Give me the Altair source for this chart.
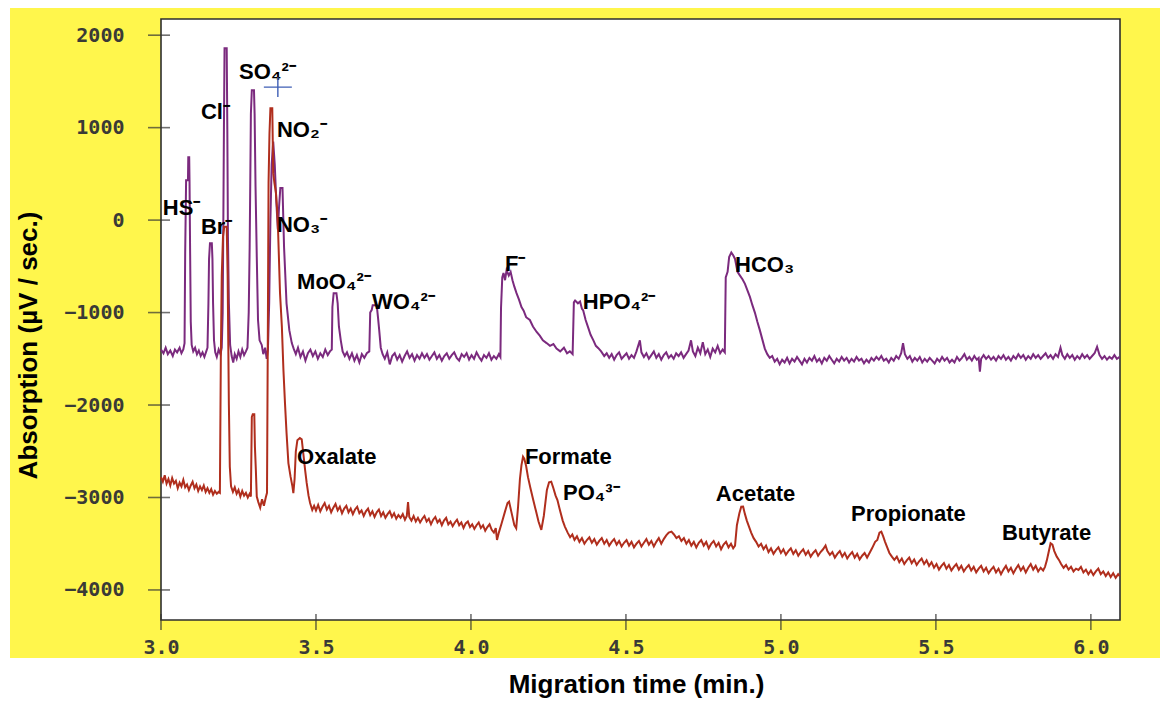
import altair as alt
import pandas as pd

# ---------------- data ----------------
purple_time = [
    3.000, 3.008, 3.015, 3.022, 3.030, 3.038, 3.045, 3.052, 3.060, 3.066, 3.072, 3.076, 3.078, 3.081, 3.087, 3.088,
    3.091, 3.092, 3.094, 3.096, 3.099, 3.104, 3.110, 3.116, 3.122, 3.128, 3.134, 3.140, 3.146, 3.150, 3.153, 3.155,
    3.158, 3.164, 3.166, 3.168, 3.171, 3.175, 3.180, 3.186, 3.192, 3.196, 3.199, 3.201, 3.203, 3.205, 3.212, 3.214,
    3.216, 3.219, 3.223, 3.228, 3.233, 3.238, 3.244, 3.250, 3.256, 3.262, 3.268, 3.274, 3.279, 3.283, 3.286, 3.288,
    3.290, 3.293, 3.300, 3.302, 3.305, 3.309, 3.313, 3.318, 3.325, 3.330, 3.336, 3.341, 3.345, 3.349, 3.353, 3.357,
    3.362, 3.367, 3.372, 3.377, 3.381, 3.385, 3.392, 3.397, 3.405, 3.414, 3.422, 3.428, 3.435, 3.442, 3.450, 3.458,
    3.466, 3.474, 3.482, 3.490, 3.498, 3.506, 3.514, 3.522, 3.530, 3.538, 3.545, 3.551, 3.553, 3.557, 3.566, 3.570,
    3.574, 3.580, 3.586, 3.593, 3.600, 3.608, 3.616, 3.624, 3.632, 3.640, 3.648, 3.656, 3.664, 3.672, 3.675, 3.680,
    3.683, 3.696, 3.700, 3.704, 3.709, 3.715, 3.722, 3.730, 3.738, 3.746, 3.754, 3.762, 3.770, 3.778, 3.786, 3.794,
    3.802, 3.810, 3.818, 3.826, 3.834, 3.842, 3.850, 3.858, 3.866, 3.874, 3.882, 3.890, 3.898, 3.906, 3.914, 3.922,
    3.930, 3.938, 3.946, 3.954, 3.962, 3.970, 3.978, 3.986, 3.994, 4.002, 4.010, 4.018, 4.026, 4.034, 4.042, 4.050,
    4.058, 4.066, 4.074, 4.082, 4.090, 4.095, 4.097, 4.101, 4.105, 4.110, 4.115, 4.122, 4.128, 4.134, 4.140, 4.147,
    4.155, 4.163, 4.170, 4.178, 4.190, 4.200, 4.212, 4.222, 4.232, 4.244, 4.255, 4.266, 4.276, 4.288, 4.300, 4.310,
    4.319, 4.328, 4.332, 4.336, 4.345, 4.352, 4.358, 4.362, 4.370, 4.378, 4.386, 4.395, 4.403, 4.411, 4.420, 4.430,
    4.438, 4.446, 4.454, 4.462, 4.470, 4.478, 4.486, 4.494, 4.502, 4.510, 4.518, 4.526, 4.534, 4.545, 4.550, 4.558,
    4.566, 4.574, 4.582, 4.590, 4.598, 4.606, 4.614, 4.622, 4.630, 4.638, 4.646, 4.654, 4.662, 4.670, 4.678, 4.686,
    4.694, 4.702, 4.710, 4.716, 4.724, 4.732, 4.740, 4.748, 4.756, 4.764, 4.772, 4.780, 4.788, 4.796, 4.804, 4.812,
    4.819, 4.822, 4.828, 4.833, 4.840, 4.846, 4.852, 4.860, 4.868, 4.876, 4.884, 4.892, 4.900, 4.908, 4.916, 4.924,
    4.932, 4.940, 4.948, 4.956, 4.964, 4.972, 4.980, 4.988, 4.996, 5.004, 5.012, 5.020, 5.028, 5.036, 5.044, 5.052,
    5.060, 5.068, 5.076, 5.084, 5.092, 5.100, 5.108, 5.116, 5.124, 5.132, 5.140, 5.148, 5.156, 5.164, 5.172, 5.180,
    5.188, 5.196, 5.204, 5.212, 5.220, 5.228, 5.236, 5.244, 5.252, 5.260, 5.268, 5.276, 5.284, 5.292, 5.300, 5.308,
    5.316, 5.324, 5.332, 5.340, 5.348, 5.356, 5.364, 5.372, 5.380, 5.388, 5.394, 5.400, 5.408, 5.416, 5.424, 5.432,
    5.440, 5.448, 5.456, 5.464, 5.472, 5.480, 5.488, 5.496, 5.504, 5.512, 5.520, 5.528, 5.536, 5.544, 5.552, 5.560,
    5.568, 5.576, 5.584, 5.592, 5.600, 5.608, 5.616, 5.624, 5.632, 5.638, 5.642, 5.646, 5.654, 5.662, 5.670, 5.678,
    5.686, 5.694, 5.702, 5.710, 5.718, 5.726, 5.734, 5.742, 5.750, 5.758, 5.766, 5.774, 5.782, 5.790, 5.798, 5.806,
    5.814, 5.822, 5.830, 5.838, 5.846, 5.854, 5.862, 5.870, 5.878, 5.886, 5.894, 5.902, 5.908, 5.916, 5.924, 5.932,
    5.940, 5.948, 5.956, 5.964, 5.972, 5.980, 5.988, 5.996, 6.004, 6.012, 6.020, 6.028, 6.036, 6.044, 6.052, 6.060,
    6.068, 6.076, 6.084, 6.093,
]
purple_signal = [
    -1400, -1440, -1380, -1450, -1410, -1470, -1400, -1430, -1380, -1440, -1400, -1330, -360, 430, 430, 680,
    680, 430, -360, -1100, -1350, -1420, -1380, -1450, -1410, -1470, -1430, -1480, -1420, -1380, -900, -420,
    -250, -250, -420, -900, -1300, -1430, -1480, -1400, -1450, -1380, -1000, -80, 980, 1860, 1860, 980,
    -180, -900, -1350, -1470, -1540, -1450, -1500, -1420, -1480, -1400, -1460, -1420, -1380, -1000, -300, 400,
    1150, 1405, 1405, 1150, 360, -400, -1080, -1300, -1350, -1450, -1380, -1500, -1400, -900, 0, 600,
    850, 600, 200, -100, 150, 346, 346, -290, -900, -1190, -1330, -1390, -1450, -1380, -1480, -1420,
    -1520, -1440, -1400, -1470, -1420, -1500, -1440, -1480, -1400, -1460, -1420, -1400, -940, -790, -790, -900,
    -1150, -1300, -1420, -1470, -1430, -1500, -1440, -1520, -1460, -1540, -1450, -1490, -1440, -1420, -1000, -970,
    -920, -920, -1050, -1190, -1380, -1450, -1500, -1430, -1560, -1470, -1440, -1510, -1460, -1530, -1470, -1420,
    -1490, -1450, -1520, -1460, -1500, -1440, -1490, -1450, -1510, -1470, -1430, -1500, -1460, -1520, -1470, -1440,
    -1500, -1460, -1430, -1490, -1520, -1450, -1480, -1440, -1510, -1460, -1500, -1430, -1480, -1520, -1460, -1490,
    -1440, -1510, -1470, -1500, -1450, -1480, -950, -620, -573, -650, -540, -600, -560, -650, -720, -790,
    -860, -940, -980, -1050, -1080, -1150, -1210, -1250, -1300, -1330, -1360, -1340, -1390, -1420, -1380, -1440,
    -1420, -1450, -890, -870, -900, -880, -960, -975, -1080, -1160, -1240, -1300, -1360, -1385, -1420, -1470,
    -1440, -1490, -1450, -1510, -1460, -1430, -1500, -1470, -1440, -1500, -1460, -1490, -1420, -1300, -1430, -1480,
    -1440, -1500, -1460, -1420, -1490, -1450, -1510, -1460, -1430, -1490, -1460, -1500, -1440, -1470, -1430, -1490,
    -1450, -1410, -1300, -1420, -1470, -1380, -1440, -1320, -1450, -1400, -1480, -1390, -1430, -1360, -1440, -1400,
    -1430, -620, -560, -400, -350, -380, -420, -560, -600, -640, -690, -760, -830, -920, -1000, -1100,
    -1190, -1290, -1390, -1450, -1490, -1470, -1530, -1500, -1560, -1510, -1540, -1490, -1550, -1500, -1530, -1480,
    -1520, -1560, -1500, -1540, -1490, -1520, -1470, -1530, -1500, -1550, -1490, -1520, -1470, -1510, -1550, -1500,
    -1530, -1480, -1520, -1490, -1540, -1500, -1530, -1480, -1520, -1500, -1550, -1510, -1540, -1490, -1520, -1480,
    -1510, -1470, -1520, -1500, -1540, -1490, -1520, -1470, -1500, -1440, -1330, -1450, -1500, -1470, -1530, -1490,
    -1520, -1480, -1540, -1500, -1530, -1490, -1520, -1550, -1500, -1530, -1480, -1520, -1490, -1540, -1510, -1540,
    -1480, -1520, -1490, -1450, -1510, -1480, -1520, -1470, -1510, -1490, -1640, -1500, -1460, -1500, -1470, -1510,
    -1480, -1520, -1470, -1500, -1460, -1510, -1480, -1520, -1470, -1500, -1450, -1490, -1460, -1510, -1470, -1500,
    -1450, -1490, -1460, -1500, -1470, -1440, -1490, -1460, -1500, -1450, -1480, -1380, -1460, -1500, -1450, -1490,
    -1460, -1510, -1470, -1500, -1450, -1490, -1460, -1500, -1470, -1440, -1370, -1460, -1500, -1470, -1510, -1480,
    -1500, -1460, -1500, -1480,
]

red_time = [
    3.000, 3.006, 3.012, 3.018, 3.024, 3.030, 3.036, 3.042, 3.048, 3.054, 3.060, 3.066, 3.072, 3.078, 3.084, 3.090,
    3.096, 3.102, 3.108, 3.114, 3.120, 3.126, 3.132, 3.138, 3.144, 3.150, 3.156, 3.162, 3.168, 3.174, 3.180, 3.186,
    3.190, 3.193, 3.196, 3.200, 3.204, 3.212, 3.215, 3.217, 3.219, 3.222, 3.226, 3.232, 3.238, 3.244, 3.250, 3.256,
    3.262, 3.268, 3.274, 3.280, 3.286, 3.290, 3.293, 3.296, 3.301, 3.303, 3.306, 3.309, 3.314, 3.320, 3.326, 3.332,
    3.338, 3.342, 3.345, 3.347, 3.350, 3.353, 3.359, 3.362, 3.366, 3.371, 3.375, 3.378, 3.384, 3.390, 3.395, 3.400,
    3.405, 3.411, 3.418, 3.424, 3.427, 3.431, 3.435, 3.440, 3.448, 3.454, 3.460, 3.465, 3.470, 3.476, 3.481, 3.488,
    3.494, 3.500, 3.507, 3.514, 3.521, 3.528, 3.535, 3.542, 3.549, 3.556, 3.563, 3.570, 3.577, 3.584, 3.591, 3.598,
    3.605, 3.612, 3.619, 3.626, 3.633, 3.640, 3.647, 3.654, 3.661, 3.668, 3.675, 3.682, 3.689, 3.696, 3.703, 3.710,
    3.717, 3.724, 3.731, 3.738, 3.745, 3.752, 3.759, 3.766, 3.773, 3.780, 3.787, 3.793, 3.797, 3.801, 3.808, 3.815,
    3.822, 3.829, 3.836, 3.843, 3.850, 3.857, 3.864, 3.871, 3.878, 3.885, 3.892, 3.899, 3.906, 3.913, 3.920, 3.927,
    3.934, 3.941, 3.948, 3.955, 3.962, 3.969, 3.976, 3.983, 3.990, 3.997, 4.004, 4.011, 4.018, 4.025, 4.032, 4.039,
    4.046, 4.053, 4.060, 4.067, 4.074, 4.080, 4.084, 4.090, 4.099, 4.110, 4.118, 4.123, 4.130, 4.140, 4.146, 4.152,
    4.158, 4.163, 4.168, 4.172, 4.178, 4.184, 4.192, 4.201, 4.210, 4.218, 4.227, 4.235, 4.245, 4.252, 4.259, 4.266,
    4.273, 4.279, 4.288, 4.296, 4.303, 4.312, 4.320, 4.327, 4.334, 4.342, 4.350, 4.358, 4.366, 4.374, 4.382, 4.390,
    4.398, 4.406, 4.414, 4.422, 4.430, 4.438, 4.446, 4.454, 4.462, 4.470, 4.478, 4.486, 4.494, 4.502, 4.510, 4.518,
    4.526, 4.534, 4.542, 4.550, 4.558, 4.566, 4.574, 4.582, 4.590, 4.598, 4.606, 4.614, 4.622, 4.630, 4.638, 4.647,
    4.655, 4.663, 4.671, 4.679, 4.687, 4.695, 4.703, 4.711, 4.719, 4.727, 4.735, 4.743, 4.751, 4.759, 4.767, 4.775,
    4.783, 4.791, 4.799, 4.807, 4.815, 4.823, 4.831, 4.839, 4.846, 4.852, 4.858, 4.866, 4.872, 4.878, 4.884, 4.890,
    4.897, 4.904, 4.912, 4.920, 4.928, 4.936, 4.944, 4.952, 4.960, 4.968, 4.976, 4.984, 4.992, 5.000, 5.008, 5.016,
    5.024, 5.032, 5.040, 5.048, 5.056, 5.064, 5.072, 5.080, 5.088, 5.096, 5.104, 5.112, 5.120, 5.128, 5.136, 5.144,
    5.150, 5.158, 5.166, 5.174, 5.182, 5.190, 5.198, 5.206, 5.214, 5.222, 5.230, 5.238, 5.246, 5.254, 5.262, 5.270,
    5.278, 5.286, 5.294, 5.304, 5.311, 5.318, 5.324, 5.330, 5.336, 5.342, 5.350, 5.358, 5.366, 5.374, 5.382, 5.390,
    5.398, 5.406, 5.414, 5.422, 5.430, 5.438, 5.446, 5.454, 5.462, 5.470, 5.478, 5.486, 5.494, 5.502, 5.510, 5.518,
    5.526, 5.534, 5.542, 5.550, 5.558, 5.566, 5.574, 5.582, 5.590, 5.598, 5.606, 5.614, 5.622, 5.630, 5.638, 5.646,
    5.654, 5.662, 5.670, 5.678, 5.686, 5.694, 5.702, 5.710, 5.718, 5.726, 5.734, 5.742, 5.750, 5.758, 5.766, 5.774,
    5.782, 5.790, 5.798, 5.806, 5.814, 5.822, 5.830, 5.838, 5.846, 5.852, 5.858, 5.863, 5.870, 5.876, 5.882, 5.890,
    5.897, 5.904, 5.912, 5.920, 5.928, 5.936, 5.944, 5.952, 5.960, 5.968, 5.976, 5.984, 5.992, 6.000, 6.008, 6.016,
    6.024, 6.032, 6.040, 6.048, 6.056, 6.064, 6.072, 6.080, 6.088, 6.093,
]
red_signal = [
    -2780, -2830, -2760, -2850, -2800, -2870, -2790, -2850, -2820, -2900, -2840, -2880, -2810, -2890, -2860, -2920,
    -2870, -2830, -2900, -2860, -2930, -2880, -2920, -2870, -2940, -2900, -2950, -2910, -2970, -2930, -2960, -2940,
    -2950, -1500, -600, -180, -72, -72, -600, -1300, -2000, -2667, -2880, -2940, -2890, -2960, -2920, -2990,
    -2930, -2980, -2950, -3000, -2960, -2990, -2130, -2100, -2100, -2450, -2700, -2990, -3050, -3110, -3020, -3090,
    -3000, -2950, -1000, 400, 940, 1210, 1210, 508, 400, 292, 100, -140, -790, -1157, -1622, -1979,
    -2300, -2628, -2775, -2880, -2952, -2800, -2500, -2380, -2357, -2370, -2550, -2703, -2843, -2980, -3059, -3135,
    -3090, -3140, -3080, -3150, -3100, -3060, -3130, -3090, -3160, -3110, -3070, -3140, -3100, -3170, -3120, -3090,
    -3160, -3120, -3180, -3130, -3100, -3170, -3140, -3200, -3150, -3120, -3190, -3150, -3210, -3160, -3130, -3200,
    -3160, -3220, -3180, -3150, -3210, -3170, -3230, -3190, -3220, -3180, -3240, -3200, -3050, -3210, -3250, -3200,
    -3260, -3220, -3270, -3230, -3200, -3260, -3230, -3290, -3240, -3210, -3270, -3240, -3300, -3250, -3220, -3290,
    -3260, -3310, -3270, -3240, -3300, -3270, -3330, -3280, -3260, -3320, -3290, -3340, -3300, -3270, -3330, -3300,
    -3360, -3320, -3290, -3350, -3380, -3330, -3459, -3380, -3279, -3150, -3060, -3045, -3150, -3300, -3333, -3100,
    -2800, -2650, -2559, -2580, -2660, -2780, -2900, -3027, -3150, -3260, -3351, -3200, -2919, -2835, -2829, -2900,
    -2980, -3027, -3150, -3250, -3315, -3380, -3430, -3400, -3459, -3420, -3480, -3440, -3500, -3460, -3430, -3490,
    -3450, -3510, -3470, -3440, -3500, -3460, -3520, -3480, -3450, -3510, -3470, -3530, -3490, -3460, -3520, -3480,
    -3540, -3500, -3470, -3530, -3490, -3450, -3510, -3470, -3530, -3480, -3440, -3500, -3450, -3410, -3380, -3369,
    -3400, -3440, -3420, -3470, -3440, -3500, -3460, -3520, -3480, -3540, -3490, -3460, -3520, -3480, -3550, -3500,
    -3470, -3530, -3490, -3560, -3510, -3480, -3540, -3500, -3550, -3520, -3300, -3171, -3100, -3099, -3180, -3250,
    -3315, -3380, -3440, -3480, -3531, -3500, -3560, -3520, -3590, -3550, -3610, -3570, -3540, -3600, -3560, -3620,
    -3580, -3550, -3610, -3570, -3630, -3590, -3560, -3620, -3580, -3640, -3600, -3570, -3630, -3590, -3560, -3520,
    -3580, -3620, -3590, -3650, -3610, -3580, -3640, -3600, -3660, -3620, -3590, -3650, -3610, -3670, -3630, -3600,
    -3650, -3600, -3550, -3480, -3459, -3380, -3369, -3420, -3480, -3531, -3600, -3640, -3675, -3640, -3700, -3660,
    -3720, -3680, -3650, -3710, -3670, -3730, -3690, -3660, -3720, -3680, -3740, -3700, -3760, -3720, -3780, -3740,
    -3710, -3770, -3730, -3790, -3750, -3720, -3780, -3740, -3800, -3760, -3730, -3790, -3750, -3810, -3770, -3740,
    -3800, -3760, -3820, -3780, -3750, -3810, -3770, -3830, -3780, -3740, -3800, -3760, -3820, -3770, -3730, -3790,
    -3750, -3810, -3760, -3720, -3780, -3740, -3800, -3760, -3790, -3750, -3680, -3603, -3495, -3510, -3580, -3640,
    -3675, -3720, -3760, -3730, -3780, -3750, -3800, -3770, -3784, -3750, -3810, -3780, -3830, -3790, -3840, -3800,
    -3770, -3830, -3800, -3850, -3810, -3860, -3820, -3870, -3830, -3850,
]

peak_labels = ["HS⁻", "Br⁻", "Cl⁻", "SO₄²⁻", "NO₂⁻", "NO₃⁻", "MoO₄²⁻", "WO₄²⁻", "F⁻", "HPO₄²⁻", "HCO₃",
               "Oxalate", "Formate", "PO₄³⁻", "Acetate", "Propionate", "Butyrate"]
label_time = [3.006, 3.129, 3.129, 3.252, 3.374, 3.374, 3.439, 3.681, 4.110, 4.361, 4.852,
              3.439, 4.174, 4.297, 4.790, 5.226, 5.713]
label_signal = [130, -76, 1168, 1600, 973, -54, -670, -886, -476, -886, -486,
                -2562, -2562, -2951, -2962, -3178, -3384]

cursor_time = [3.377]
cursor_signal = [1438]

x_tick_values = [3.0, 3.5, 4.0, 4.5, 5.0, 5.5, 6.0]
y_tick_values = [-4000, -3000, -2000, -1000, 0, 1000, 2000]
x_domain = [3.0, 6.094]
y_domain = [-4325, 2175]

# ---------------- layout / style ----------------
W, H = 959, 601
PAD = {"left": 161, "top": 19, "right": 40, "bottom": 85}
PURPLE = "#7b2a7e"
RED = "#b02e1d"
YELLOW = "#fff64c"
NARROW = "'Liberation Sans Narrow', 'Arial Narrow', 'Liberation Sans', Arial, sans-serif"
MONO = "'DejaVu Sans Mono', 'Liberation Mono', monospace"

xs = alt.Scale(domain=x_domain, nice=False, zero=False)
ys = alt.Scale(domain=y_domain, nice=False, zero=False)

x_axis = alt.Axis(
    values=x_tick_values, format=".1f", ticks=False, grid=False, domain=False,
    labelFont=MONO, labelFontWeight="bold", labelFontSize=20, labelColor="#3a3a36",
    labelPadding=17, labelFlush=False,
    title="Migration time (min.)", titleFont=NARROW, titleFontWeight="bold", titleFontSize=26,
    titleColor="black", titleX=475, titleY=64, titleBaseline="middle", titleAlign="center",
    zindex=1,
)
y_axis = alt.Axis(
    values=y_tick_values, format="d", ticks=False, grid=False, domain=False,
    labelFont=MONO, labelFontWeight="bold", labelFontSize=20, labelColor="#3a3a36",
    labelPadding=37, labelFlush=False,
    title="Absorption (µV / sec.)", titleFont=NARROW, titleFontWeight="bold", titleFontSize=26,
    titleColor="black", titleX=-133, titleY=326, titleAngle=270, titleBaseline="middle",
    titleAlign="center", zindex=1,
)


def X(field):
    return alt.X(field, type="quantitative", scale=xs, axis=x_axis)


def Y(field):
    return alt.Y(field, type="quantitative", scale=ys, axis=y_axis)


one = pd.DataFrame({"k": [0]})

yellow_panel = alt.Chart(one).mark_rect(color=YELLOW).encode(
    x=alt.value(10 - PAD["left"]), x2=alt.value(1160 - PAD["left"]),
    y=alt.value(8 - PAD["top"]), y2=alt.value(658 - PAD["top"]),
)
white_panel = alt.Chart(one).mark_rect(fill="white", stroke="#2e2e2e", strokeWidth=1.6).encode(
    x=alt.value(0), x2=alt.value(W), y=alt.value(0), y2=alt.value(H),
)

ytick_df = pd.DataFrame({"t": [x_domain[0]] * len(y_tick_values), "s": y_tick_values})
xtick_df = pd.DataFrame({"t": x_tick_values, "s": [y_domain[0]] * len(x_tick_values)})

y_ticks = alt.Chart(ytick_df).mark_tick(orient="horizontal", size=22, thickness=1.6, color="#333333", xOffset=-2).encode(
    x=X("t"), y=Y("s"))
x_ticks = alt.Chart(xtick_df).mark_tick(orient="vertical", size=16, thickness=1.6, color="#333333", yOffset=2).encode(
    x=X("t"), y=Y("s"))

purple_df = pd.DataFrame({"t": purple_time, "s": purple_signal})
red_df = pd.DataFrame({"t": red_time, "s": red_signal})

purple_line = alt.Chart(purple_df).mark_line(color=PURPLE, strokeWidth=2).encode(
    x=X("t"), y=Y("s"), order="t:Q")
red_line = alt.Chart(red_df).mark_line(color=RED, strokeWidth=2).encode(
    x=X("t"), y=Y("s"), order="t:Q")

label_df = pd.DataFrame({"t": label_time, "s": label_signal, "name": peak_labels})
labels = alt.Chart(label_df).mark_text(
    align="left", baseline="middle", font=NARROW, fontSize=22, fontWeight="bold", color="black"
).encode(x=X("t"), y=Y("s"), text="name:N")

cursor_df = pd.DataFrame({"t": cursor_time, "s": cursor_signal})
cursor = alt.Chart(cursor_df).mark_point(
    shape="M-1,0L1,0M0,-0.7L0,0.7", size=784, filled=False, stroke="#3f5fb5", strokeWidth=1.4, opacity=1
).encode(x=X("t"), y=Y("s"))

chart = alt.layer(
    yellow_panel, white_panel, y_ticks, x_ticks, purple_line, red_line, labels, cursor
).properties(
    width=W, height=H,
    autosize=alt.AutoSizeParams(type="none"),
    padding=PAD,
).configure(background="white").configure_view(stroke="transparent", fill="transparent")

chart.save("out.html", embed_options={"renderer": "svg", "actions": False})
